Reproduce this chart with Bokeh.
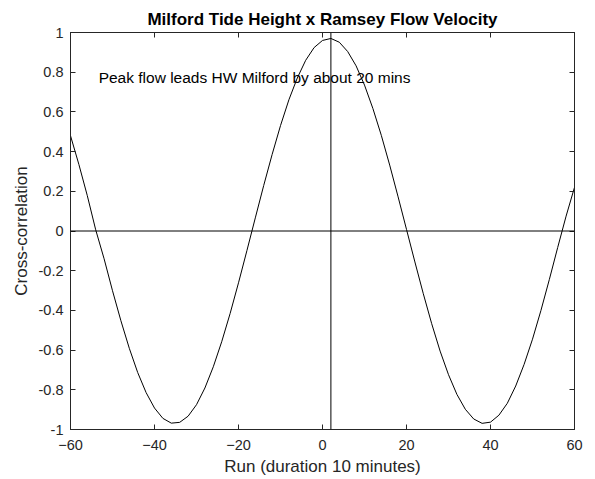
from bokeh.plotting import figure
from bokeh.models import Range1d, FixedTicker, LinearAxis, Span, Label
from bokeh.embed import file_html
from bokeh.resources import INLINE

# ---- data ----
lags = [-60, -58, -56, -54, -52, -50, -48, -46, -44, -42, -40, -38, -36, -34, -32,
        -30, -28, -26, -24, -22, -20, -18, -16, -14, -12, -10, -8, -6, -4, -2,
        0, 2, 4, 6, 8, 10, 12, 14, 16, 18, 20, 22, 24, 26, 28, 30, 32, 34, 36,
        38, 40, 42, 44, 46, 48, 50, 52, 54, 56, 58, 60]
xcorr = [0.480, 0.335, 0.178, 0.006, -0.140, -0.301, -0.452, -0.591, -0.713,
         -0.814, -0.892, -0.944, -0.968, -0.964, -0.933, -0.875, -0.791, -0.684,
         -0.558, -0.416, -0.261, -0.099, 0.066, 0.229, 0.385, 0.531, 0.661, 0.771,
         0.860, 0.924, 0.960, 0.970, 0.951, 0.904, 0.832, 0.735, 0.617, 0.482,
         0.332, 0.172, 0.008, -0.156, -0.316, -0.467, -0.605, -0.724, -0.823,
         -0.898, -0.947, -0.969, -0.963, -0.928, -0.868, -0.781, -0.672, -0.545,
         -0.401, -0.245, -0.083, 0.075, 0.220]
zero_level = 0
peak_lag = 2
x_ticks = [-60, -40, -20, 0, 20, 40, 60]
y_ticks = [-1, -0.8, -0.6, -0.4, -0.2, 0, 0.2, 0.4, 0.6, 0.8, 1]
y_tick_labels = ["-1", "-0.8", "-0.6", "-0.4", "-0.2", "0", "0.2", "0.4", "0.6", "0.8", "1"]
title_text = "Milford Tide Height x Ramsey Flow Velocity"
x_label = "Run (duration 10 minutes)"
y_label = "Cross-correlation"
note_text = "Peak flow leads HW Milford by about 20 mins"
note_x = -53.3
note_y = 0.775

FONT = "Liberation Sans"
AX = "#262626"

p = figure(width=595, height=479, output_backend="svg", toolbar_location=None,
           x_range=Range1d(-60, 60), y_range=Range1d(-1, 1),
           min_border_left=70, min_border_right=21, min_border_top=32,
           min_border_bottom=50, background_fill_color="white",
           border_fill_color="white")

p.title.text = title_text
p.title.align = "center"
p.title.text_font = FONT
p.title.text_font_size = "17px"
p.title.text_font_style = "bold"
p.title.text_color = "black"
p.title.standoff = 7
p.title.offset = 0

p.xgrid.visible = False
p.ygrid.visible = False
p.outline_line_color = AX
p.outline_line_width = 1

bottom = p.below[0]
left = p.left[0]
top = LinearAxis()
right = LinearAxis()
p.add_layout(top, "above")
p.add_layout(right, "right")

def style_axis(ax, ticks, show_labels):
    ax.ticker = FixedTicker(ticks=ticks)
    ax.axis_line_color = AX
    ax.major_tick_line_color = AX
    ax.major_tick_in = 5
    ax.major_tick_out = 0
    ax.minor_tick_line_color = None
    ax.major_label_text_font = FONT
    ax.major_label_text_font_size = "14.5px"
    ax.major_label_text_color = AX
    ax.axis_label_text_font = FONT
    ax.axis_label_text_font_size = "17px"
    ax.axis_label_text_font_style = "normal"
    ax.axis_label_text_color = AX
    if not show_labels:
        ax.major_label_text_color = None
        ax.major_label_text_font_size = "1px"
        ax.major_label_standoff = 0

style_axis(bottom, x_ticks, True)
style_axis(left, y_ticks, True)
style_axis(top, x_ticks, False)
style_axis(right, y_ticks, False)

bottom.axis_label = x_label
bottom.major_label_standoff = 10
bottom.axis_label_standoff = 4
left.axis_label = y_label
left.major_label_standoff = 7
left.axis_label_standoff = 5
left.major_label_overrides = {t: s for t, s in zip(y_ticks, y_tick_labels)}

p.add_layout(Span(location=zero_level, dimension="width", line_color="black", line_width=1))
p.add_layout(Span(location=peak_lag, dimension="height", line_color="black", line_width=1))

p.line(lags, xcorr, line_color="black", line_width=1)

p.add_layout(Label(x=note_x, y=note_y, text=note_text, text_font=FONT,
                   text_font_size="15.5px", text_color="black",
                   text_baseline="middle", text_align="left"))

open("out.html", "w").write(file_html(p, INLINE))
